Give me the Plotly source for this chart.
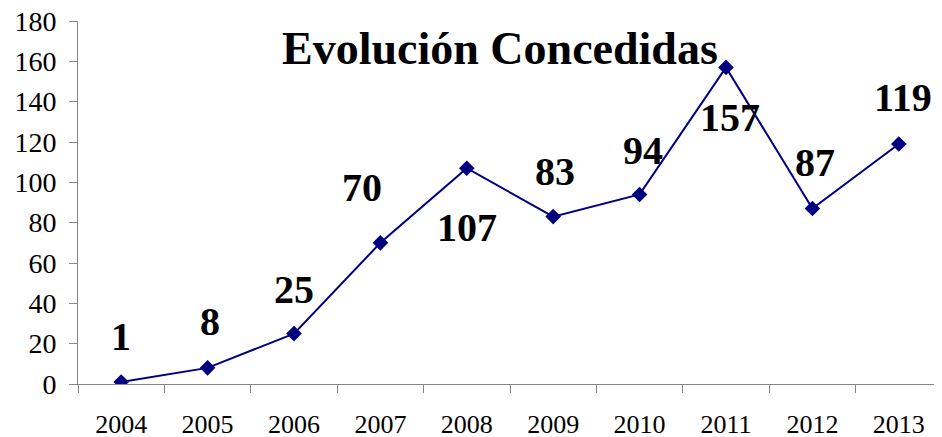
import plotly.graph_objects as go

YEARS = ["2004", "2005", "2006", "2007", "2008", "2009", "2010", "2011", "2012", "2013"]
CONCEDIDAS = [1, 8, 25, 70, 107, 83, 94, 157, 87, 119]
TITLE = "Evolución Concedidas"

# label nudges in pixels (x, y), roughly as dragged in the original
LABEL_SHIFT = [(0, 45), (2, 46), (0, 44), (-18, 55), (0, -59),
               (2, 45), (3, 44), (4, -50), (3, 46), (4, 47)]

FONT = "Liberation Serif"
NAVY = "#000080"
AXIS_GREY = "#878787"

pos = list(range(len(YEARS)))
bounds = [p - 0.5 for p in pos] + [pos[-1] + 0.5]

fig = go.Figure()
fig.add_trace(go.Scatter(
    x=pos, y=CONCEDIDAS, mode="lines+markers",
    line=dict(color=NAVY, width=2),
    marker=dict(symbol="diamond", size=12, color=NAVY),
    customdata=YEARS, hovertemplate="%{customdata}: %{y}<extra></extra>",
    showlegend=False,
))

for p, val, (dx, dy) in zip(pos, CONCEDIDAS, LABEL_SHIFT):
    fig.add_annotation(x=p, y=val, text="<b>%d</b>" % val, showarrow=False,
                       xshift=dx, yshift=dy, xanchor="center", yanchor="middle",
                       font=dict(family=FONT, size=40, color="black"))

fig.add_annotation(x=0.488, y=0.923, xref="paper", yref="paper", text="<b>%s</b>" % TITLE,
                   showarrow=False, xanchor="center", yanchor="middle",
                   font=dict(family=FONT, size=46, color="black"))

fig.update_xaxes(range=[-0.5, len(YEARS) - 0.5], tickmode="array", tickvals=pos, ticktext=YEARS,
                 showline=True, linecolor=AXIS_GREY, linewidth=1, ticks="",
                 minor=dict(tickmode="array", tickvals=bounds, ticks="outside", ticklen=8,
                            tickcolor=AXIS_GREY, showgrid=False),
                 showgrid=False, zeroline=False, ticklabelstandoff=17, tickangle=0,
                 automargin=False, ticklabeloverflow="allow",
                 tickfont=dict(family=FONT, size=26, color="black"))
fig.update_yaxes(range=[0, 180], dtick=20, showline=True, linecolor=AXIS_GREY, linewidth=1,
                 ticks="outside", ticklen=8, tickcolor=AXIS_GREY,
                 showgrid=False, zeroline=False, ticklabelstandoff=7, automargin=False,
                 ticklabeloverflow="allow",
                 tickfont=dict(family=FONT, size=28, color="black"))

# the page body keeps its default 8px margin, so the figure is sized to fit inside it
fig.update_layout(width=934, height=429, margin=dict(l=70, r=0, t=13, b=53),
                  paper_bgcolor="white", plot_bgcolor="white")

fig.write_html("out.html")
